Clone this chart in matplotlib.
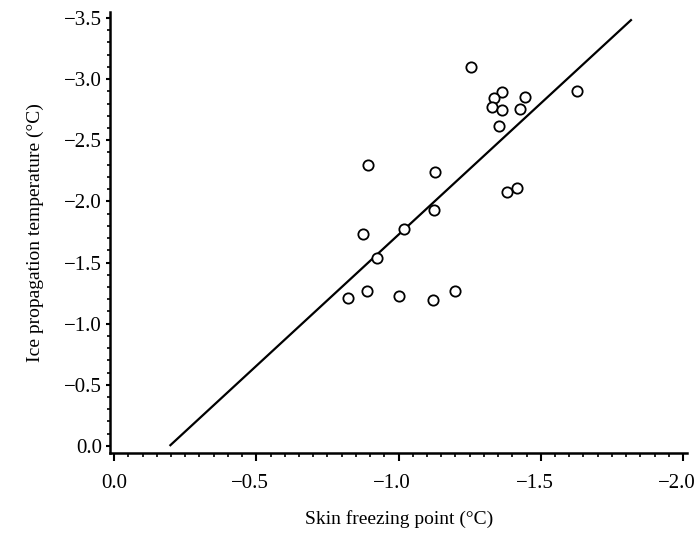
import matplotlib.pyplot as plt
from matplotlib.ticker import MultipleLocator, FuncFormatter
from matplotlib.transforms import ScaledTranslation

plt.rcParams['font.family'] = ['Liberation Serif', 'DejaVu Serif']

# Skin freezing point (x) vs ice propagation temperature (y), both in degC
skin_fp = [-1.255, -1.363, -1.335, -1.445, -1.627, -1.330, -1.364, -1.428,
           -1.353, -0.891, -1.128, -1.416, -1.383, -1.124, -1.020, -0.874,
           -0.924, -0.824, -0.890, -1.001, -1.121, -1.197]
ice_prop = [-3.10, -2.897, -2.848, -2.856, -2.90, -2.770, -2.750, -2.758,
            -2.618, -2.298, -2.236, -2.111, -2.076, -1.932, -1.772, -1.732,
            -1.539, -1.211, -1.263, -1.225, -1.195, -1.271]

# regression line end points
fit_x = [-0.195, -1.82]
fit_y = [0.0, -3.488]

fig = plt.figure(figsize=(6.97, 5.36), dpi=100)
ax = fig.add_axes([0.158, 0.155, 0.828, 0.823])

ax.plot(fit_x, fit_y, color='black', lw=1.6, solid_capstyle='butt')
ax.scatter(skin_fp, ice_prop, s=55, facecolors='white', edgecolors='black',
           linewidths=1.3, zorder=3)

ax.set_xlim(0.014, -2.015)
ax.set_ylim(0.057, -3.55)

ax.xaxis.set_major_locator(MultipleLocator(0.5))
ax.xaxis.set_minor_locator(MultipleLocator(0.05))
ax.yaxis.set_major_locator(MultipleLocator(0.5))
ax.yaxis.set_minor_locator(MultipleLocator(0.1))
fmt = FuncFormatter(lambda v, p: f"{v:.1f}".replace('-', '\u2212') if abs(v) > 1e-9 else "0.0")
ax.xaxis.set_major_formatter(fmt)
ax.yaxis.set_major_formatter(fmt)

for s in ['top', 'right']:
    ax.spines[s].set_visible(False)
for s in ['left', 'bottom']:
    ax.spines[s].set_linewidth(1.8)

ax.tick_params(axis='x', which='major', direction='out', length=5.8, width=1.5, labelsize=15, pad=9.5)
ax.tick_params(axis='x', which='minor', direction='out', length=3, width=1.2)
ax.tick_params(axis='y', which='major', direction='out', length=3, width=1.5, labelsize=15, pad=3)
ax.tick_params(axis='y', which='minor', direction='out', length=2, width=1.2)

ax.set_xlabel('Skin freezing point (°C)', fontsize=14, labelpad=12)
ax.set_ylabel('Ice propagation temperature (°C)', fontsize=14, labelpad=14)

# the numeral part sits on the tick, the minus sign hangs to the left
fig.canvas.draw()
for lab in ax.get_xticklabels():
    if lab.get_text().startswith('\u2212'):
        lab.set_transform(lab.get_transform() + ScaledTranslation(-4.5 / 72, 0, fig.dpi_scale_trans))

fig.savefig('out.png', dpi=100)
